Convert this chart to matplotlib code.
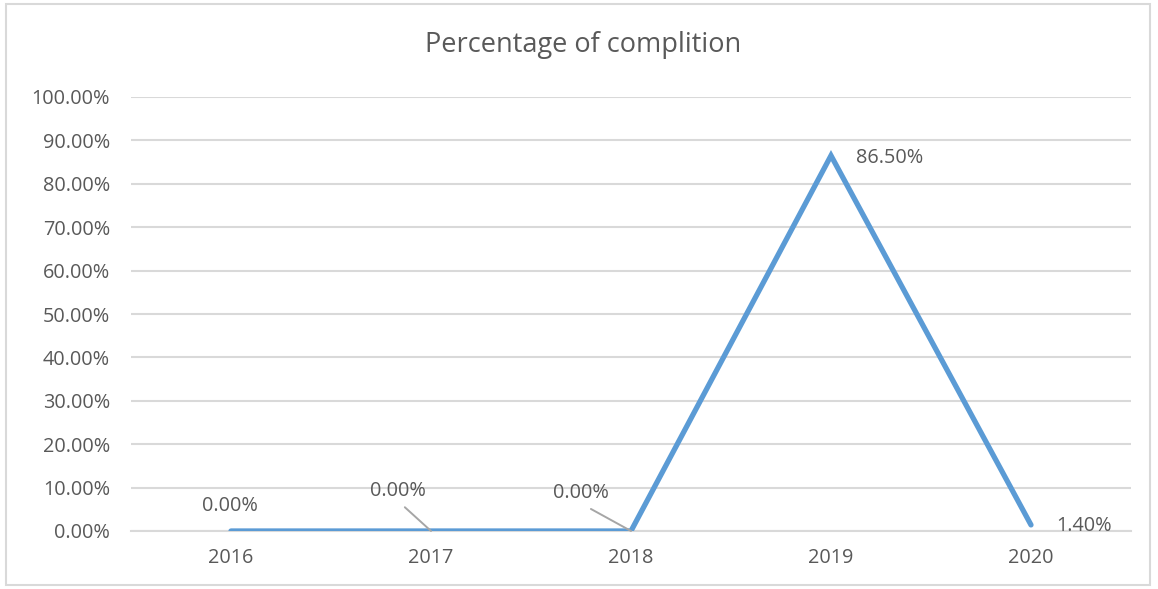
import matplotlib
matplotlib.use("Agg")
import matplotlib.pyplot as plt
from matplotlib.patches import Rectangle
from matplotlib.ticker import FuncFormatter

plt.rcParams['font.family'] = ['Open Sans', 'DejaVu Sans']

years = ['2016', '2017', '2018', '2019', '2020']
completion = [0.0, 0.0, 0.0, 86.5, 1.4]
# label offsets (points) and whether a leader line is drawn
label_offsets = [(-1, 18), (-24, 29), (-36, 27), (42, -2), (38, -1)]
leaders = [False, True, True, False, False]

text_color = '#595959'
grid_color = '#D9D9D9'
line_color = '#5B9BD5'

fig = plt.figure(figsize=(11.58, 5.89), dpi=100)
ax = fig.add_axes([131/1158, 1 - 531/589, 1000/1158, 434/589])

x = range(len(years))
ax.plot(x, completion, color=line_color, lw=3.8, solid_capstyle='round',
        solid_joinstyle='miter', zorder=3)

ax.set_xlim(-0.5, len(years) - 0.5)
ax.set_ylim(0, 100)
ax.set_yticks(range(0, 101, 10))
ax.yaxis.set_major_formatter(FuncFormatter(lambda v, p: '%.2f%%' % v))
ax.set_xticks(list(x))
ax.set_xticklabels(years)

ax.grid(axis='y', color=grid_color, lw=1.5)
ax.set_axisbelow(True)
for s in ['top', 'right', 'left']:
    ax.spines[s].set_visible(False)
ax.spines['bottom'].set_color(grid_color)
ax.spines['bottom'].set_linewidth(1.5)
ax.tick_params(axis='both', length=0, labelsize=14.3, colors=text_color)
ax.tick_params(axis='y', pad=15)
ax.tick_params(axis='x', pad=12)

for i, v in enumerate(completion):
    dx, dy = label_offsets[i]
    props = None
    if leaders[i]:
        props = dict(arrowstyle='-', color='#A6A6A6', lw=1.4, relpos=(0.5, 0),
                     shrinkA=4, shrinkB=0)
    ax.annotate('%.2f%%' % v, xy=(i, v), xytext=(dx, dy), textcoords='offset points',
                ha='center', va='center', fontsize=14.3, color=text_color,
                arrowprops=props, zorder=4)

fig.text(583/1158, 1 - 45/589, 'Percentage of complition', ha='center', va='center',
         fontsize=19.5, color=text_color)

fig.patches.append(Rectangle((6/1158, 4/589), 1144/1158, 581/589, transform=fig.transFigure,
                             fill=False, edgecolor='#D9D9D9', lw=1.5))

fig.savefig('out.png', dpi=100)
